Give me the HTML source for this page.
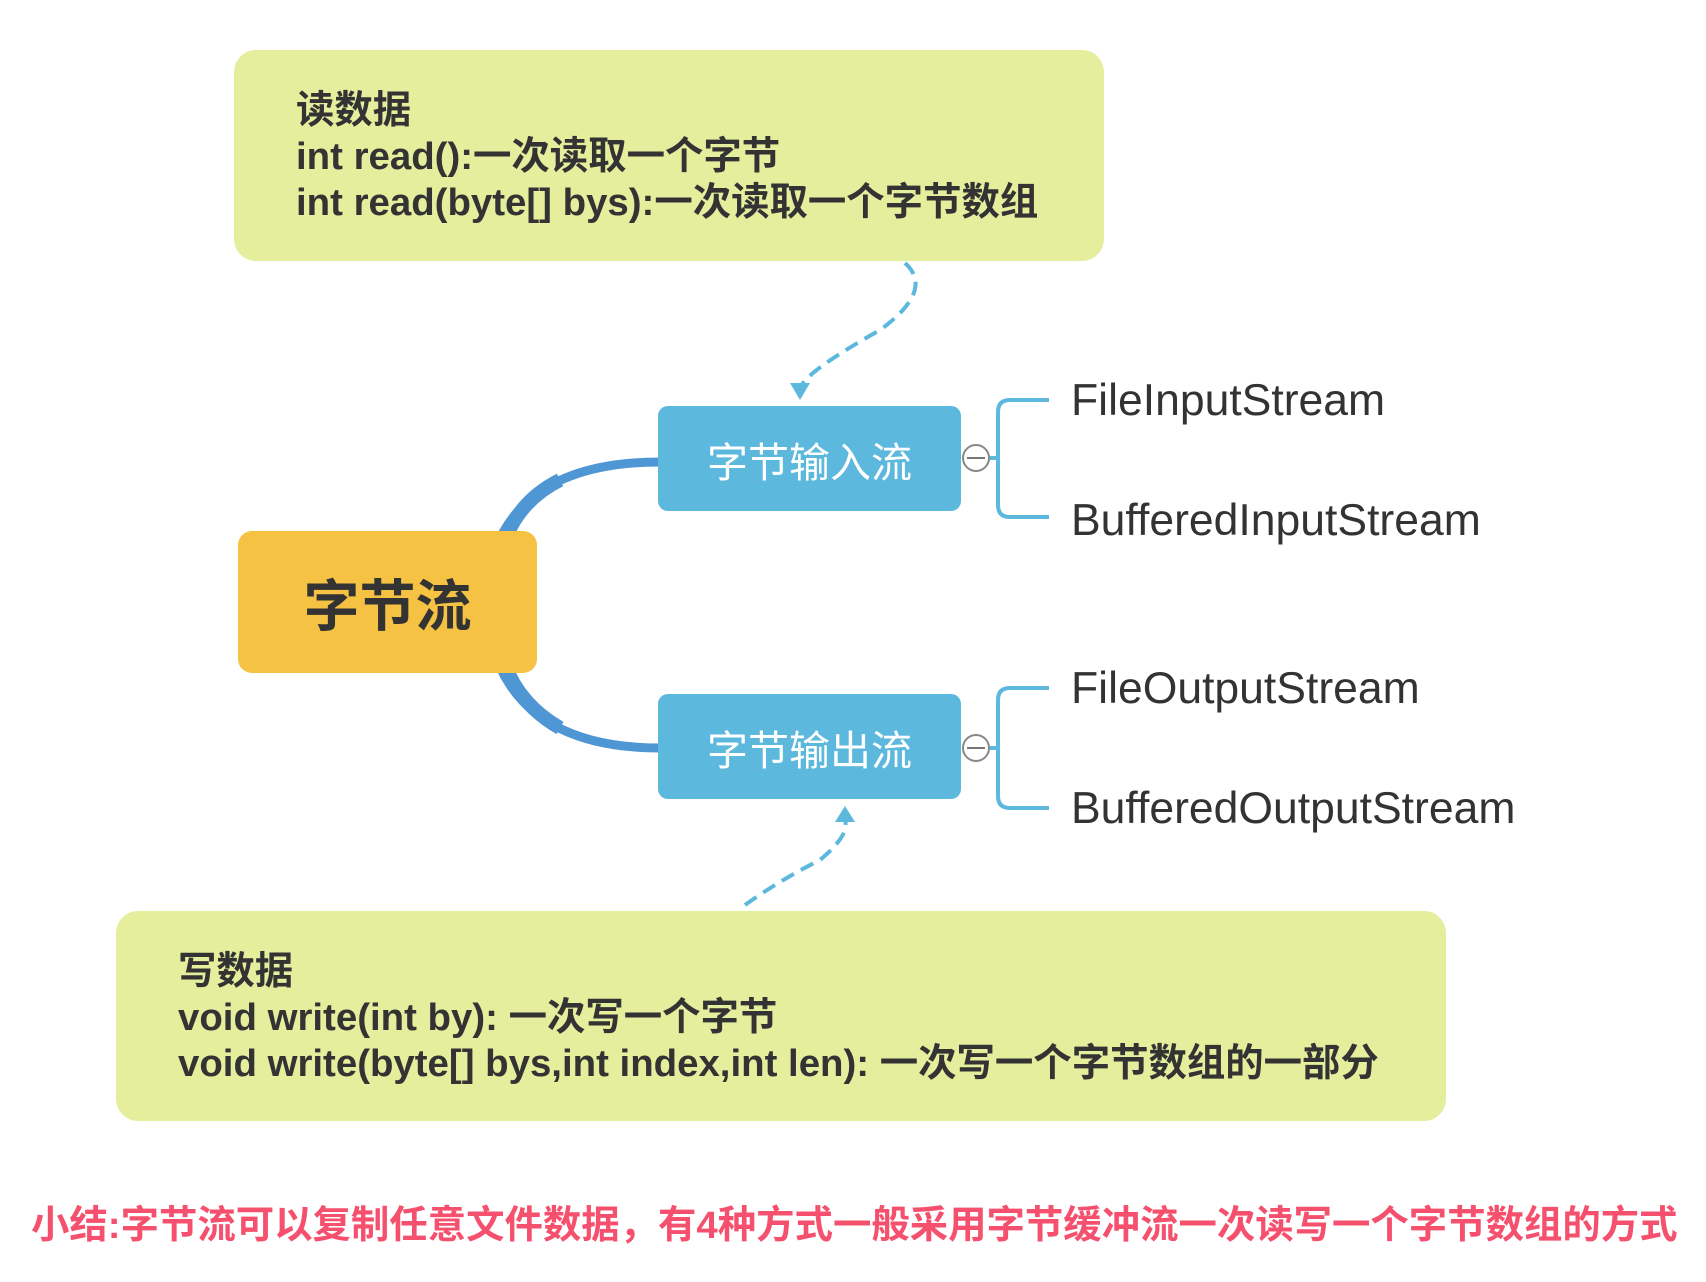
<!DOCTYPE html>
<html><head><meta charset="utf-8"><style>
body{margin:0;width:1706px;height:1282px;background:#fff;position:relative;overflow:hidden;font-family:"Liberation Sans","Noto Sans CJK SC",sans-serif;}
.box{position:absolute;}
.note{background:#e4ee9d;border-radius:22px;color:#333;font-size:38.4px;font-weight:bold;line-height:46px;box-sizing:border-box;white-space:nowrap;}
.node{background:#5cb8dc;border-radius:10px;color:#fff;font-size:41px;display:flex;align-items:center;justify-content:center;}
.leaf{position:absolute;font-size:44.5px;color:#333;line-height:1;}
</style></head><body>
<svg width="1706" height="1282" style="position:absolute;left:0;top:0">
<path d="M497,545 Q532,462 660,462" stroke="#4f96d4" stroke-width="9" fill="none"/>
<path d="M505,540 Q520,500 560,480" stroke="#4f96d4" stroke-width="14" fill="none"/>
<path d="M497,660 Q532,748 660,748" stroke="#4f96d4" stroke-width="9" fill="none"/>
<path d="M505,665 Q520,705 560,728" stroke="#4f96d4" stroke-width="14" fill="none"/>
<g stroke="#5cb8dc" stroke-width="4" fill="none">
<path d="M1049,400 H1010 Q998,400 998,412 V505 Q998,517 1010,517 H1049"/>
<path d="M1049,688 H1010 Q998,688 998,700 V796 Q998,808 1010,808 H1049"/>
<line x1="990" y1="458" x2="998" y2="458"/><line x1="990" y1="748" x2="998" y2="748"/>
</g>
<g stroke="#888" stroke-width="2" fill="#fff">
<circle cx="976" cy="458" r="13"/><circle cx="976" cy="748" r="13"/>
</g>
<line x1="967" y1="458" x2="985" y2="458" stroke="#777" stroke-width="2"/>
<line x1="967" y1="748" x2="985" y2="748" stroke="#777" stroke-width="2"/>
<g stroke="#5cb8dc" stroke-width="4" fill="none" stroke-dasharray="14,8">
<path d="M905,263 Q935,290 880,330 Q800,375 800,390"/>
<path d="M745,905 Q780,880 820,860 Q850,835 845,820"/>
</g>
<polygon points="790,383 810,383 800,400" fill="#5cb8dc"/>
<polygon points="835,822 855,822 845,806" fill="#5cb8dc"/>
</svg>
<div class="box note" style="left:234px;top:50px;width:870px;height:211px;padding:38px 0 0 62px;">读数据<br>int read():一次读取一个字节<br>int read(byte[] bys):一次读取一个字节数组</div>
<div class="box node" style="left:238px;top:531px;width:299px;height:142px;background:#f5c244;color:#333;font-size:56px;font-weight:bold;border-radius:14px;">字节流</div>
<div class="box node" style="left:658px;top:406px;width:303px;height:105px;">字节输入流</div>
<div class="box node" style="left:658px;top:694px;width:303px;height:105px;">字节输出流</div>
<div class="leaf" style="left:1071px;top:379px">FileInputStream</div>
<div class="leaf" style="left:1071px;top:499px">BufferedInputStream</div>
<div class="leaf" style="left:1071px;top:667px">FileOutputStream</div>
<div class="leaf" style="left:1071px;top:787px">BufferedOutputStream</div>
<div class="box note" style="left:116px;top:911px;width:1330px;height:210px;padding:38px 0 0 62px;">写数据<br>void write(int by): 一次写一个字节<br>void write(byte[] bys,int index,int len): 一次写一个字节数组的一部分</div>
<div class="box" style="left:31px;top:1204px;font-size:38.4px;font-weight:bold;color:#f5506e;white-space:nowrap;line-height:44px;">小结:字节流可以复制任意文件数据，有4种方式一般采用字节缓冲流一次读写一个字节数组的方式</div>
</body></html>
